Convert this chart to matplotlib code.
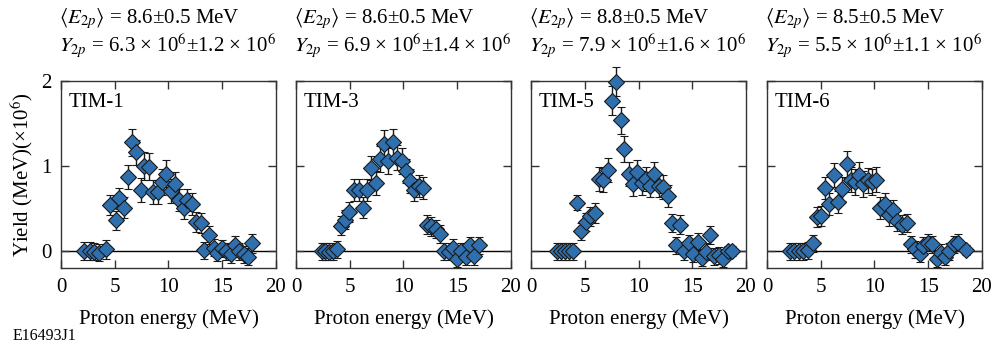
import numpy as np
import matplotlib
matplotlib.use("Agg")
from matplotlib import pyplot as plt

plt.rcParams['font.family'] = ['Liberation Serif', 'DejaVu Serif']
plt.rcParams['mathtext.fontset'] = 'stix'

names = ['TIM-1', 'TIM-3', 'TIM-5', 'TIM-6']
e_mean = ['8.6', '8.6', '8.8', '8.5']
y_mean = ['6.3', '6.9', '7.9', '5.5']
y_err = ['1.2', '1.4', '1.6', '1.1']

# TIM-1
e1 = [2.1, 2.7, 3.1, 3.5, 4.2, 4.6, 5.1, 5.4, 5.9, 6.2, 6.6, 7.0, 7.4, 7.75, 8.2,
      8.6, 9.0, 9.4, 9.8, 10.2, 10.6, 11.0, 11.4, 11.75, 12.15, 12.6, 13.0, 13.3,
      13.8, 14.2, 14.5, 14.95, 15.35, 15.8, 16.2, 16.6, 17.0, 17.4, 17.8]
y1 = [0.0, 0.0, -0.01, -0.02, 0.02, 0.54, 0.36, 0.62, 0.51, 0.87, 1.28, 1.16, 0.72,
      1.0, 0.99, 0.69, 0.69, 0.81, 0.91, 0.71, 0.79, 0.6, 0.51, 0.6, 0.55, 0.34,
      0.33, 0.01, 0.19, 0.04, -0.02, 0.03, 0.0, -0.04, 0.07, 0.0, -0.04, -0.07, 0.09]
err1 = [0.11, 0.11, 0.1, 0.1, 0.11, 0.12, 0.11, 0.12, 0.12, 0.14, 0.16, 0.15, 0.14,
        0.16, 0.16, 0.14, 0.14, 0.15, 0.16, 0.14, 0.14, 0.13, 0.13, 0.13, 0.13, 0.12,
        0.12, 0.1, 0.11, 0.1, 0.1, 0.1, 0.1, 0.1, 0.11, 0.1, 0.1, 0.1, 0.11]

# TIM-3
e3 = [2.4, 2.7, 3.1, 3.4, 3.8, 4.2, 4.6, 4.96, 5.4, 5.86, 6.26, 6.6, 7.0, 7.44, 7.8,
      8.2, 8.6, 9.0, 9.4, 9.83, 10.2, 10.6, 11.0, 11.4, 11.8, 12.15, 12.56, 13.0,
      13.4, 13.77, 14.2, 14.6, 14.95, 15.35, 15.8, 16.2, 16.6, 17.0]
y3 = [0.0, 0.0, -0.01, 0.0, 0.02, 0.3, 0.37, 0.46, 0.72, 0.72, 0.51, 0.72, 0.98, 0.8,
      1.08, 1.26, 1.06, 1.28, 1.1, 1.06, 0.94, 0.82, 0.72, 0.76, 0.74, 0.31, 0.29,
      0.26, 0.2, 0.0, -0.01, 0.04, -0.09, 0.0, -0.07, 0.07, -0.06, 0.07]
err3 = [0.1, 0.1, 0.1, 0.1, 0.1, 0.11, 0.11, 0.12, 0.13, 0.13, 0.12, 0.13, 0.14,
        0.14, 0.15, 0.16, 0.15, 0.16, 0.15, 0.15, 0.14, 0.14, 0.13, 0.13, 0.13, 0.11,
        0.11, 0.11, 0.11, 0.1, 0.1, 0.1, 0.1, 0.1, 0.1, 0.1, 0.1, 0.1]

# TIM-5
e5 = [2.4, 2.76, 3.16, 3.56, 3.94, 4.3, 4.65, 5.09, 5.49, 5.95, 6.3, 6.73, 7.13, 7.57,
      7.9, 8.34, 8.68, 9.1, 9.5, 9.9, 10.3, 10.7, 11.07, 11.47, 11.9, 12.3, 12.7,
      13.1, 13.5, 13.9, 14.26, 14.7, 15.1, 15.5, 15.9, 16.3, 16.65, 17.05, 17.5,
      17.9, 18.35, 18.7]
y5 = [0.0, 0.0, 0.0, 0.0, 0.0, 0.57, 0.23, 0.34, 0.41, 0.45, 0.85, 0.84, 0.95, 1.77,
      1.99, 1.54, 1.2, 0.91, 0.79, 0.93, 0.8, 0.85, 0.77, 0.91, 0.77, 0.75, 0.65,
      0.33, 0.07, 0.31, 0.0, 0.09, -0.03, 0.11, -0.08, -0.01, 0.19, -0.06, -0.05,
      -0.09, 0.0, 0.0]
err5 = [0.1, 0.1, 0.1, 0.1, 0.1, 0.09, 0.1, 0.11, 0.11, 0.12, 0.14, 0.14, 0.14, 0.17,
        0.17, 0.16, 0.15, 0.14, 0.14, 0.14, 0.14, 0.14, 0.14, 0.14, 0.14, 0.14, 0.13,
        0.11, 0.1, 0.11, 0.1, 0.1, 0.1, 0.1, 0.1, 0.1, 0.11, 0.1, 0.1, 0.1, 0.06, 0.06]

# TIM-6
e6 = [2.14, 2.54, 2.98, 3.38, 3.78, 4.25, 4.62, 5.02, 5.4, 5.8, 6.23, 6.63, 7.0, 7.41,
      7.81, 8.2, 8.6, 8.96, 9.37, 9.77, 10.14, 10.5, 10.98, 11.35, 11.75, 12.1, 12.6,
      13.0, 13.37, 13.77, 14.23, 14.5, 14.95, 15.38, 15.8, 16.2, 16.56, 16.93, 17.4,
      17.8, 18.5]
y6 = [0.0, 0.0, 0.0, 0.0, 0.01, 0.09, 0.4, 0.41, 0.74, 0.55, 0.89, 0.58, 0.73, 1.02,
      0.84, 0.81, 0.9, 0.79, 0.83, 0.81, 0.84, 0.51, 0.55, 0.42, 0.48, 0.35, 0.31,
      0.33, 0.08, 0.02, -0.03, 0.06, 0.1, 0.08, -0.09, -0.02, -0.07, 0.0, 0.08, 0.1,
      0.01]
err6 = [0.1, 0.1, 0.1, 0.1, 0.1, 0.1, 0.12, 0.12, 0.13, 0.13, 0.14, 0.13, 0.14, 0.16,
        0.15, 0.15, 0.15, 0.15, 0.15, 0.15, 0.15, 0.13, 0.13, 0.12, 0.12, 0.12, 0.11,
        0.11, 0.1, 0.1, 0.1, 0.1, 0.1, 0.1, 0.1, 0.1, 0.1, 0.1, 0.1, 0.1, 0.06]

xs = [e1, e3, e5, e6]
ys = [y1, y3, y5, y6]
errs = [err1, err3, err5, err6]

fig = plt.figure(figsize=(9.92, 3.46), dpi=100)
lefts = [0.0615, 0.2984, 0.5353, 0.7732]
fs = 15

for i in range(4):
    ax = fig.add_axes([lefts[i], 0.2254, 0.2167, 0.5405])
    ax.axhline(0, color='black', lw=1, zorder=1)
    ax.errorbar(xs[i], ys[i], yerr=errs[i], fmt='D', ms=8.5, mfc='#2f6fae',
                mec='#1a1a1a', mew=0.8, ecolor='#1a1a1a', elinewidth=1,
                capsize=3, capthick=1, zorder=3, clip_on=False)
    ax.set_xlim(0, 20)
    ax.set_ylim(-0.2, 2)
    ax.set_xticks([0, 5, 10, 15, 20])
    ax.set_yticks([0, 1, 2])
    ax.tick_params(direction='in', top=True, right=True, length=6, width=1,
                   labelsize=fs, color='#333333', pad=7)
    if i > 0:
        ax.set_yticklabels([])
    else:
        ax.set_ylabel('Yield (MeV)(×10$^6$)', fontsize=fs, labelpad=4)
    ax.set_xlabel('Proton energy (MeV)', fontsize=fs, labelpad=9)
    for s in ax.spines.values():
        s.set_linewidth(1)
        s.set_color('#333333')
    ax.text(0.035, 0.885, names[i], transform=ax.transAxes, fontsize=fs,
            va='center', ha='left')
    ax.text(-0.01, 1.335, r'$\langle E_{2p}\rangle$ = ' + e_mean[i] + '±0.5 MeV',
            transform=ax.transAxes, fontsize=fs, va='center', ha='left')
    ax.text(-0.01, 1.19, r'$Y_{2p}$ = ' + y_mean[i] + r' × 10$^6$±' + y_err[i] + r' × 10$^6$',
            transform=ax.transAxes, fontsize=fs, va='center', ha='left')

fig.text(0.013, 0.03, 'E16493J1', fontsize=11.5, va='center', ha='left')

plt.savefig('out.png', dpi=100)
